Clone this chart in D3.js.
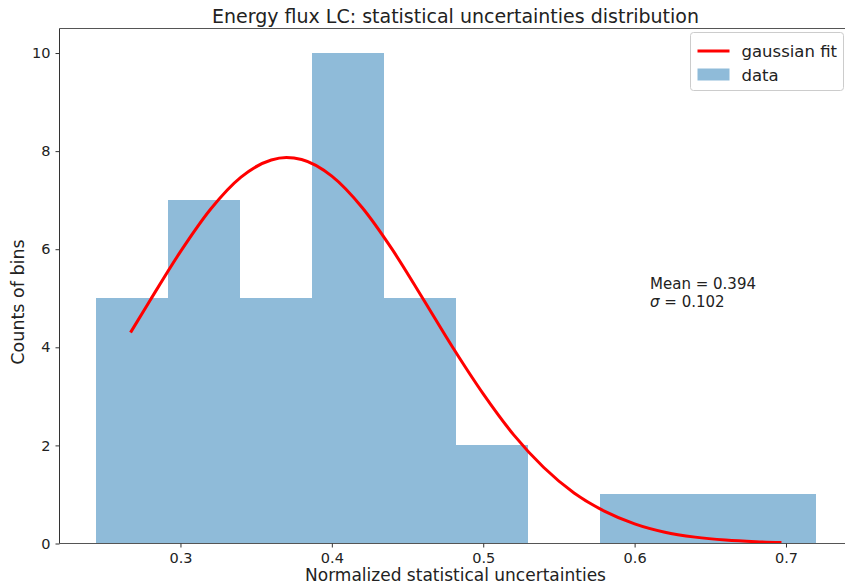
<!DOCTYPE html>
<html>
<head>
<meta charset="utf-8">
<script src="https://cdn.jsdelivr.net/npm/d3@7"></script>
<style>
  html, body { margin: 0; padding: 0; background: #fff; }
  svg { display: block; font-family: "DejaVu Sans", sans-serif; }
</style>
</head>
<body>
<svg id="chart" width="845" height="586"></svg>
<script>
// Histogram bin edges and counts
const binEdges = [0.2439, 0.2915, 0.3391, 0.3867, 0.4343, 0.4819, 0.5295, 0.5770, 0.6246, 0.6722, 0.7198];
const binCounts = [5, 7, 5, 10, 5, 2, 0, 1, 1, 1];

// Fitted gaussian curve, sampled
const fitX = [0.267, 0.28, 0.30, 0.32, 0.34, 0.36, 0.37, 0.38, 0.40, 0.42, 0.44, 0.46, 0.48, 0.50,
              0.52, 0.54, 0.56, 0.58, 0.60, 0.62, 0.64, 0.66, 0.68, 0.697];
const fitY = [4.30, 4.96, 5.95, 6.82, 7.47, 7.82, 7.87, 7.83, 7.49, 6.85, 5.99, 5.00, 3.99, 3.05,
              2.22, 1.55, 1.03, 0.66, 0.40, 0.23, 0.13, 0.069, 0.035, 0.019];

// Axis ticks
const xTicks = [0.3, 0.4, 0.5, 0.6, 0.7];
const yTicks = [0, 2, 4, 6, 8, 10];

const statLines = ["Mean = 0.394", "= 0.102"];

const svg = d3.select("#chart");
const plot = { left: 59.5, right: 852, top: 28.5, bottom: 543.5 };

const x = d3.scaleLinear().domain([0.2201, 0.7436]).range([plot.left, plot.right]);
const y = d3.scaleLinear().domain([0, 10.5]).range([plot.bottom, plot.top]);

const bars = binCounts.map((c, i) => ({ x0: binEdges[i], x1: binEdges[i + 1], count: c }));

// Bars (snapped to whole pixels so neighbouring bars meet without seams)
svg.append("g").selectAll("rect").data(bars.filter(d => d.count > 0)).join("rect")
  .attr("x", d => Math.round(x(d.x0)))
  .attr("width", d => Math.round(x(d.x1)) - Math.round(x(d.x0)))
  .attr("y", d => Math.round(y(d.count)))
  .attr("height", d => Math.round(y(0)) - Math.round(y(d.count)))
  .attr("fill", "#1f77b4")
  .attr("fill-opacity", 0.5)
  .attr("shape-rendering", "crispEdges");

// Gaussian fit line
const line = d3.line().x(d => x(d[0])).y(d => y(d[1])).curve(d3.curveMonotoneX);
svg.append("path")
  .datum(fitX.map((v, i) => [v, fitY[i]]))
  .attr("d", line)
  .attr("fill", "none")
  .attr("stroke", "red")
  .attr("stroke-width", 3);

// Spines
const spine = svg.append("g").attr("fill", "none");
spine.append("line").attr("x1", plot.left).attr("x2", plot.right).attr("y1", plot.top).attr("y2", plot.top)
  .attr("stroke", "#555").attr("stroke-width", 1);
spine.append("line").attr("x1", plot.left).attr("x2", plot.right).attr("y1", plot.bottom).attr("y2", plot.bottom)
  .attr("stroke", "#555").attr("stroke-width", 1);
spine.append("line").attr("x1", plot.left).attr("x2", plot.left).attr("y1", plot.top).attr("y2", plot.bottom)
  .attr("stroke", "#333").attr("stroke-width", 1);

// Axes
const xAxis = svg.append("g").attr("transform", `translate(0,${plot.bottom})`)
  .call(d3.axisBottom(x).tickValues(xTicks).tickFormat(d3.format(".1f")).tickSize(4).tickPadding(5.5));
const yAxis = svg.append("g").attr("transform", `translate(${plot.left},0)`)
  .call(d3.axisLeft(y).tickValues(yTicks).tickFormat(d3.format("d")).tickSize(4).tickPadding(5));
[xAxis, yAxis].forEach(a => {
  a.select(".domain").remove();
  a.selectAll(".tick line").attr("stroke", "#333");
  a.selectAll(".tick text").attr("fill", "#222").style("font-size", "14.5px")
    .style("font-family", "DejaVu Sans, sans-serif");
});

// Title and axis labels
svg.append("text").attr("x", 455.5).attr("y", 23).attr("text-anchor", "middle")
  .style("font-size", "19px").attr("fill", "#222")
  .text("Energy flux LC: statistical uncertainties distribution");
svg.append("text").attr("x", 455.5).attr("y", 581).attr("text-anchor", "middle")
  .style("font-size", "17px").attr("fill", "#222")
  .text("Normalized statistical uncertainties");
svg.append("text").attr("transform", "translate(24,302) rotate(-90)").attr("text-anchor", "middle")
  .style("font-size", "17.5px").attr("fill", "#222")
  .text("Counts of bins");

// Fit statistics
const stat = svg.append("text").attr("x", x(0.6102)).attr("y", 289)
  .style("font-size", "15px").attr("fill", "#222");
stat.append("tspan").attr("x", x(0.6102)).text(statLines[0]);
const l2 = stat.append("tspan").attr("x", x(0.6102)).attr("dy", 18);
l2.append("tspan").style("font-style", "italic").text("\u03c3");
l2.append("tspan").text(" " + statLines[1]);

// Legend
const lg = svg.append("g").attr("transform", "translate(690.5,32.5)");
lg.append("rect").attr("width", 153).attr("height", 58).attr("rx", 3)
  .attr("fill", "#fff").attr("fill-opacity", 0.8).attr("stroke", "#ccc");
lg.append("line").attr("x1", 7).attr("x2", 39).attr("y1", 18.5).attr("y2", 18.5)
  .attr("stroke", "red").attr("stroke-width", 3);
lg.append("rect").attr("x", 7).attr("y", 36).attr("width", 32).attr("height", 12)
  .attr("fill", "#1f77b4").attr("fill-opacity", 0.5);
lg.append("text").attr("x", 51).attr("y", 24).style("font-size", "16.5px").attr("fill", "#222").text("gaussian fit");
lg.append("text").attr("x", 51).attr("y", 48).style("font-size", "16.5px").attr("fill", "#222").text("data");
</script>
</body>
</html>
